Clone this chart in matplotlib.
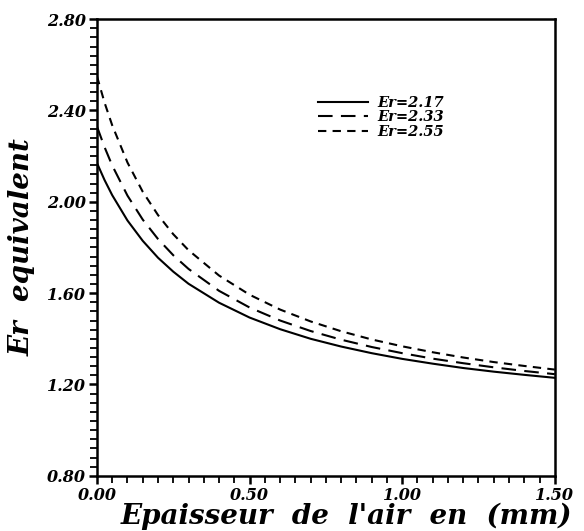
import matplotlib
matplotlib.use('Agg')
import matplotlib.pyplot as plt
from matplotlib.ticker import MultipleLocator

# epaisseur de la couche d'air (mm)
epaisseur = [0.0, 0.025, 0.05, 0.1, 0.15, 0.2, 0.25, 0.3, 0.4, 0.5,
             0.6, 0.7, 0.8, 0.9, 1.0, 1.1, 1.2, 1.3, 1.4, 1.5]

# permittivite equivalente pour chaque substrat
er_217 = [2.170, 2.095, 2.029, 1.918, 1.829, 1.755, 1.694, 1.641, 1.558, 1.493,
          1.442, 1.400, 1.366, 1.337, 1.312, 1.291, 1.272, 1.256, 1.242, 1.229]
er_233 = [2.330, 2.239, 2.159, 2.027, 1.922, 1.837, 1.766, 1.706, 1.610, 1.537,
          1.480, 1.434, 1.396, 1.364, 1.337, 1.313, 1.293, 1.275, 1.259, 1.245]
er_255 = [2.550, 2.434, 2.335, 2.172, 2.044, 1.942, 1.858, 1.788, 1.677, 1.593,
          1.528, 1.476, 1.433, 1.397, 1.367, 1.341, 1.318, 1.298, 1.281, 1.265]

labels = ['Er=2.17', 'Er=2.33', 'Er=2.55']

police = 'DejaVu Serif'

fig = plt.figure(figsize=(5.84, 5.31), dpi=100)
ax = fig.add_axes([0.166, 0.104, 0.784, 0.860])

ax.plot(epaisseur, er_217, color='black', lw=1.5, label=labels[0])
ax.plot(epaisseur, er_233, color='black', lw=1.5, dashes=(7, 4), label=labels[1])
ax.plot(epaisseur, er_255, color='black', lw=1.5, dashes=(4, 3), label=labels[2])

ax.set_xlim(0, 1.5)
ax.set_ylim(0.8, 2.8)
ax.xaxis.set_major_locator(MultipleLocator(0.5))
ax.xaxis.set_minor_locator(MultipleLocator(0.05))
ax.yaxis.set_major_locator(MultipleLocator(0.4))
ax.yaxis.set_minor_locator(MultipleLocator(0.04))
ax.xaxis.set_major_formatter(lambda v, p: '%.2f' % v)
ax.yaxis.set_major_formatter(lambda v, p: '%.2f' % v)

for s in ax.spines.values():
    s.set_linewidth(1.8)
ax.tick_params(which='major', direction='out', length=6, width=1.8, pad=2)
ax.tick_params(which='minor', direction='out', length=5, width=1.3)
for t in ax.get_xticklabels() + ax.get_yticklabels():
    t.set_family(police)
    t.set_weight('bold')
    t.set_style('italic')
    t.set_fontsize(11.5)

ax.set_xlabel("Epaisseur  de  l'air  en  (mm)", family=police, weight='bold',
              style='italic', fontsize=20)
ax.xaxis.set_label_coords(0.545, -0.058)
ax.set_ylabel('Er  equivalent', family=police, weight='bold',
              style='italic', fontsize=20)
ax.yaxis.set_label_coords(-0.133, 0.5)

leg = ax.legend(loc='upper left', bbox_to_anchor=(0.47, 0.845), frameon=False,
                handlelength=3.4, handletextpad=0.7, labelspacing=0.05,
                borderaxespad=0,
                prop={'family': police, 'weight': 'bold', 'style': 'italic',
                      'size': 10.5})

fig.savefig('out.png', dpi=100)
